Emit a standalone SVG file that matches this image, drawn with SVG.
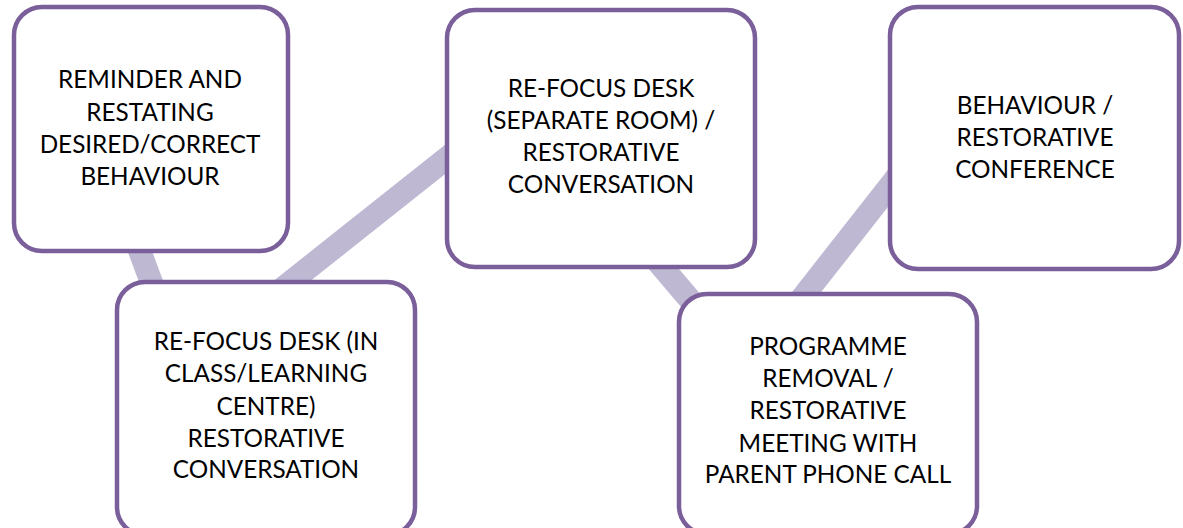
<svg xmlns="http://www.w3.org/2000/svg" width="1183" height="528" viewBox="0 0 1183 528">
<style>
.box{fill:#ffffff;stroke:#7a5f9b;stroke-width:4.5}
.conn{stroke:#bfb8d3;stroke-width:23;stroke-linecap:butt;fill:none}
.t{font-family:Lato,"Liberation Sans",sans-serif;font-size:24.3px;fill:#000000;text-anchor:middle}
</style>
<rect width="1183" height="528" fill="#ffffff"/>
<g id="connectors">
<line class="conn" x1="130" y1="225" x2="158" y2="300"/>
<line class="conn" x1="278" y1="292" x2="462" y2="146"/>
<line class="conn" x1="652" y1="255" x2="703" y2="315"/>
<line class="conn" x1="798" y1="303" x2="900" y2="173"/>
</g>
<g id="node1">
<rect class="box" x="14" y="7" width="274" height="244" rx="28"/>
<text class="t" x="150" y="88">REMINDER AND</text>
<text class="t" x="150" y="121">RESTATING</text>
<text class="t" x="150" y="153">DESIRED/CORRECT</text>
<text class="t" x="150" y="185">BEHAVIOUR</text>
</g>
<g id="node2">
<rect class="box" x="117" y="282" width="298" height="253" rx="28"/>
<text class="t" x="266" y="350">RE-FOCUS DESK (IN</text>
<text class="t" x="266" y="382">CLASS/LEARNING</text>
<text class="t" x="266" y="415">CENTRE)</text>
<text class="t" x="266" y="447">RESTORATIVE</text>
<text class="t" x="266" y="478">CONVERSATION</text>
</g>
<g id="node3">
<rect class="box" x="447" y="10" width="308" height="257" rx="28"/>
<text class="t" x="601" y="97">RE-FOCUS DESK</text>
<text class="t" x="601" y="129">(SEPARATE ROOM) /</text>
<text class="t" x="601" y="161">RESTORATIVE</text>
<text class="t" x="601" y="193">CONVERSATION</text>
</g>
<g id="node4">
<rect class="box" x="890" y="7" width="289" height="262" rx="28"/>
<text class="t" x="1035" y="114">BEHAVIOUR /</text>
<text class="t" x="1035" y="146">RESTORATIVE</text>
<text class="t" x="1035" y="178">CONFERENCE</text>
</g>
<g id="node5">
<rect class="box" x="679" y="294" width="298" height="240" rx="28"/>
<text class="t" x="828" y="355">PROGRAMME</text>
<text class="t" x="828" y="387">REMOVAL /</text>
<text class="t" x="828" y="419">RESTORATIVE</text>
<text class="t" x="828" y="452">MEETING WITH</text>
<text class="t" x="828" y="483">PARENT PHONE CALL</text>
</g>
</svg>
